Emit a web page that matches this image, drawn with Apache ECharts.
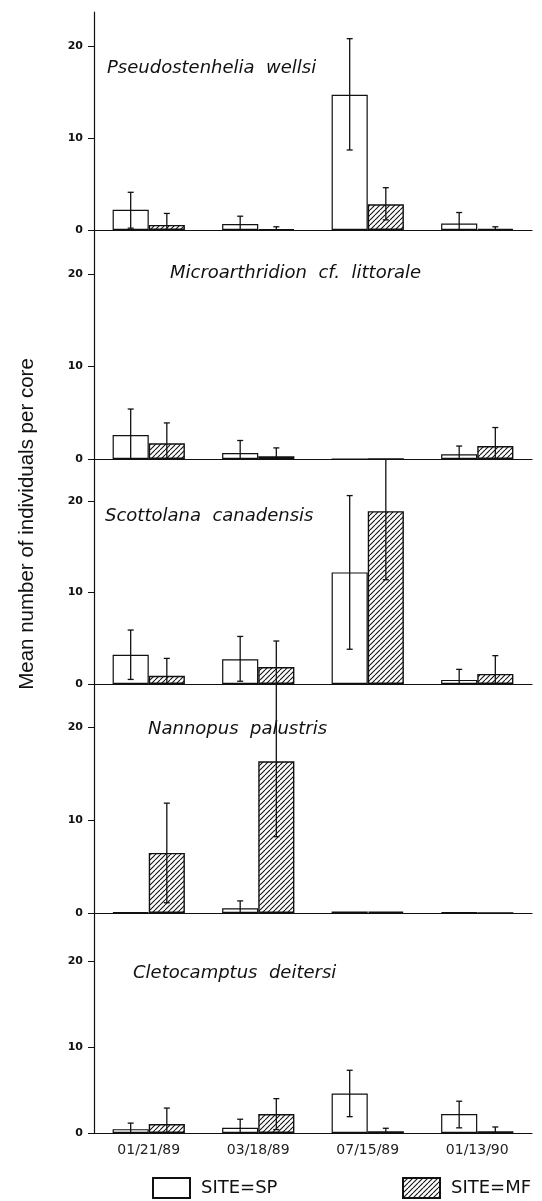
<!DOCTYPE html>
<html><head><meta charset="utf-8">
<script src="https://cdn.jsdelivr.net/npm/echarts@6/dist/echarts.min.js"></script>
<style>html,body{margin:0;padding:0;background:#fff}#c{width:542px;height:1201px}</style>
</head><body><div id="c"></div>
<script>
// ---- data ----
const dates = ['01/21/89', '03/18/89', '07/15/89', '01/13/90'];
const speciesNames = ['Pseudostenhelia  wellsi', 'Microarthridion  cf.  littorale', 'Scottolana  canadensis', 'Nannopus  palustris', 'Cletocamptus  deitersi'];
const seriesNames = ['SITE=SP', 'SITE=MF'];
const yTickValues = [0, 10, 20];
const yLabel = 'Mean number of individuals per core';

const pseudoSP = [2.2, 0.65, 14.7, 0.7];
const pseudoSPErr = [[0.2, 4.1], [0, 1.5], [8.7, 20.8], [0, 1.9]];
const pseudoMF = [0.55, 0.08, 2.8, 0.1];
const pseudoMFErr = [[0, 1.8], [0, 0.35], [1.1, 4.6], [0, 0.35]];

const microSP = [2.6, 0.65, 0, 0.5];
const microSPErr = [[0, 5.4], [0, 2.0], null, [0, 1.4]];
const microMF = [1.7, 0.3, 0, 1.4];
const microMFErr = [[0, 3.9], [0, 1.2], null, [0, 3.4]];

const scottSP = [3.2, 2.7, 12.2, 0.45];
const scottSPErr = [[0.5, 5.9], [0.3, 5.2], [3.8, 20.6], [0, 1.6]];
const scottMF = [0.9, 1.85, 18.9, 1.1];
const scottMFErr = [[0, 2.8], [0, 4.7], [11.4, 26.4], [0, 3.1]];

const nannoSP = [0.06, 0.5, 0.15, 0.06];
const nannoSPErr = [null, [0, 1.3], null, null];
const nannoMF = [6.45, 16.3, 0.15, 0];
const nannoMFErr = [[1.1, 11.8], [8.2, 24.6], null, null];

const cletoSP = [0.45, 0.6, 4.6, 2.2];
const cletoSPErr = [[0, 1.15], [0, 1.6], [1.9, 7.3], [0.6, 3.7]];
const cletoMF = [1.05, 2.2, 0.2, 0.2];
const cletoMFErr = [[0, 2.9], [0.4, 4.0], [0, 0.55], [0, 0.7]];

const panelsSP = [pseudoSP, microSP, scottSP, nannoSP, cletoSP];
const panelsSPErr = [pseudoSPErr, microSPErr, scottSPErr, nannoSPErr, cletoSPErr];
const panelsMF = [pseudoMF, microMF, scottMF, nannoMF, cletoMF];
const panelsMFErr = [pseudoMFErr, microMFErr, scottMFErr, nannoMFErr, cletoMFErr];

// ---- layout ----
const gridTops = [12, 230, 459, 684, 913];
const gridBottoms = [230, 459, 684, 913, 1133];
const yMaxes = [23.7, 24.75, 24.6, 24.6, 25.6];
const titlePos = [[107, 68], [170, 273], [105, 516], [148, 729], [133, 973]];

// hatch pattern
const pc = document.createElement('canvas');
pc.width = 5; pc.height = 5;
const ctx = pc.getContext('2d');
ctx.fillStyle = '#fff'; ctx.fillRect(0, 0, 5, 5);
ctx.strokeStyle = '#111'; ctx.lineWidth = 1.1;
for (const k of [-1, 0, 1]) { ctx.beginPath(); ctx.moveTo(k * 5, 5); ctx.lineTo(k * 5 + 5, 0); ctx.stroke(); }
const hatch = { image: pc, repeat: 'repeat' };

const chart = echarts.init(document.getElementById('c'), null, { renderer: 'canvas' });

function errRender(sign) {
  return function (params, api) {
    const i = api.value(0), lo = api.value(1), hi = api.value(2);
    const band = api.size([1, 0])[0];
    const off = sign * band * 0.165;
    const pHi = api.coord([i, hi]);
    const pLo = api.coord([i, lo]);
    const cx = pHi[0] + off;
    const cap = 3;
    const st = { stroke: '#111', lineWidth: 1.3 };
    const children = [
      { type: 'line', shape: { x1: cx, y1: pHi[1], x2: cx, y2: pLo[1] }, style: st },
      { type: 'line', shape: { x1: cx - cap, y1: pHi[1], x2: cx + cap, y2: pHi[1] }, style: st }
    ];
    if (lo > 0.15) children.push({ type: 'line', shape: { x1: cx - cap, y1: pLo[1], x2: cx + cap, y2: pLo[1] }, style: st });
    return { type: 'group', children: children };
  };
}

const grids = [], xAxes = [], yAxes = [], series = [], graphics = [];
for (let p = 0; p < 5; p++) {
  grids.push({ left: 94, width: 438, top: gridTops[p], height: gridBottoms[p] - gridTops[p] });
  xAxes.push({
    type: 'category', gridIndex: p, data: dates,
    axisLine: { show: true, lineStyle: { color: '#111', width: 1.2 } },
    axisTick: { show: false },
    axisLabel: { show: p === 4, fontSize: 14, color: '#222', margin: 10, fontFamily: 'DejaVu Sans' }
  });
  yAxes.push({
    type: 'value', gridIndex: p, min: 0, max: yMaxes[p],
    axisLine: { show: true, lineStyle: { color: '#111', width: 1.2 } },
    axisTick: { show: true, length: 6, customValues: yTickValues, lineStyle: { color: '#111' } },
    axisLabel: { customValues: yTickValues, fontSize: 11, fontWeight: 'bold', color: '#111', margin: 11, fontFamily: 'DejaVu Sans' },
    splitLine: { show: false }
  });
  series.push({
    name: seriesNames[0], type: 'bar', xAxisIndex: p, yAxisIndex: p, data: panelsSP[p],
    barGap: '0%', barCategoryGap: '34%',
    itemStyle: { color: '#fff', borderColor: '#111', borderWidth: 1.2 }, silent: true
  });
  series.push({
    name: seriesNames[1], type: 'bar', xAxisIndex: p, yAxisIndex: p, data: panelsMF[p],
    barGap: '0%', barCategoryGap: '34%',
    itemStyle: { color: hatch, borderColor: '#111', borderWidth: 1.4 }, silent: true
  });
  const mk = (arr) => arr.map((e, i) => e ? [i, e[0], e[1]] : null).filter(Boolean);
  series.push({
    type: 'custom', xAxisIndex: p, yAxisIndex: p, renderItem: errRender(-1), clip: true, silent: true,
    data: mk(panelsSPErr[p]), encode: { x: 0, y: [1, 2] }, z: 5
  });
  series.push({
    type: 'custom', xAxisIndex: p, yAxisIndex: p, renderItem: errRender(1), clip: true, silent: true,
    data: mk(panelsMFErr[p]), encode: { x: 0, y: [1, 2] }, z: 5
  });
  graphics.push({
    type: 'text', x: titlePos[p][0], y: titlePos[p][1],
    style: { text: speciesNames[p], font: 'italic 18px "DejaVu Sans"', fill: '#111', textAlign: 'left', textVerticalAlign: 'middle' }
  });
}
graphics.push({
  type: 'text', x: 27, y: 524, rotation: Math.PI / 2,
  style: { text: yLabel, font: '20.5px "Liberation Sans"', fill: '#111', textAlign: 'center', textVerticalAlign: 'middle' }
});

const legendCommon = { itemWidth: 37, itemHeight: 20, icon: 'rect', selectedMode: false, padding: 0,
  textStyle: { fontSize: 18, color: '#111', fontFamily: 'DejaVu Sans', padding: [0, 0, 0, 6] } };
chart.setOption({
  backgroundColor: '#fff',
  animation: false,
  grid: grids, xAxis: xAxes, yAxis: yAxes, series: series, graphic: graphics,
  legend: [
    Object.assign({ data: [seriesNames[0]], left: 152, top: 1177 }, legendCommon),
    Object.assign({ data: [seriesNames[1]], left: 402, top: 1177 }, legendCommon)
  ]
});
</script></body></html>
